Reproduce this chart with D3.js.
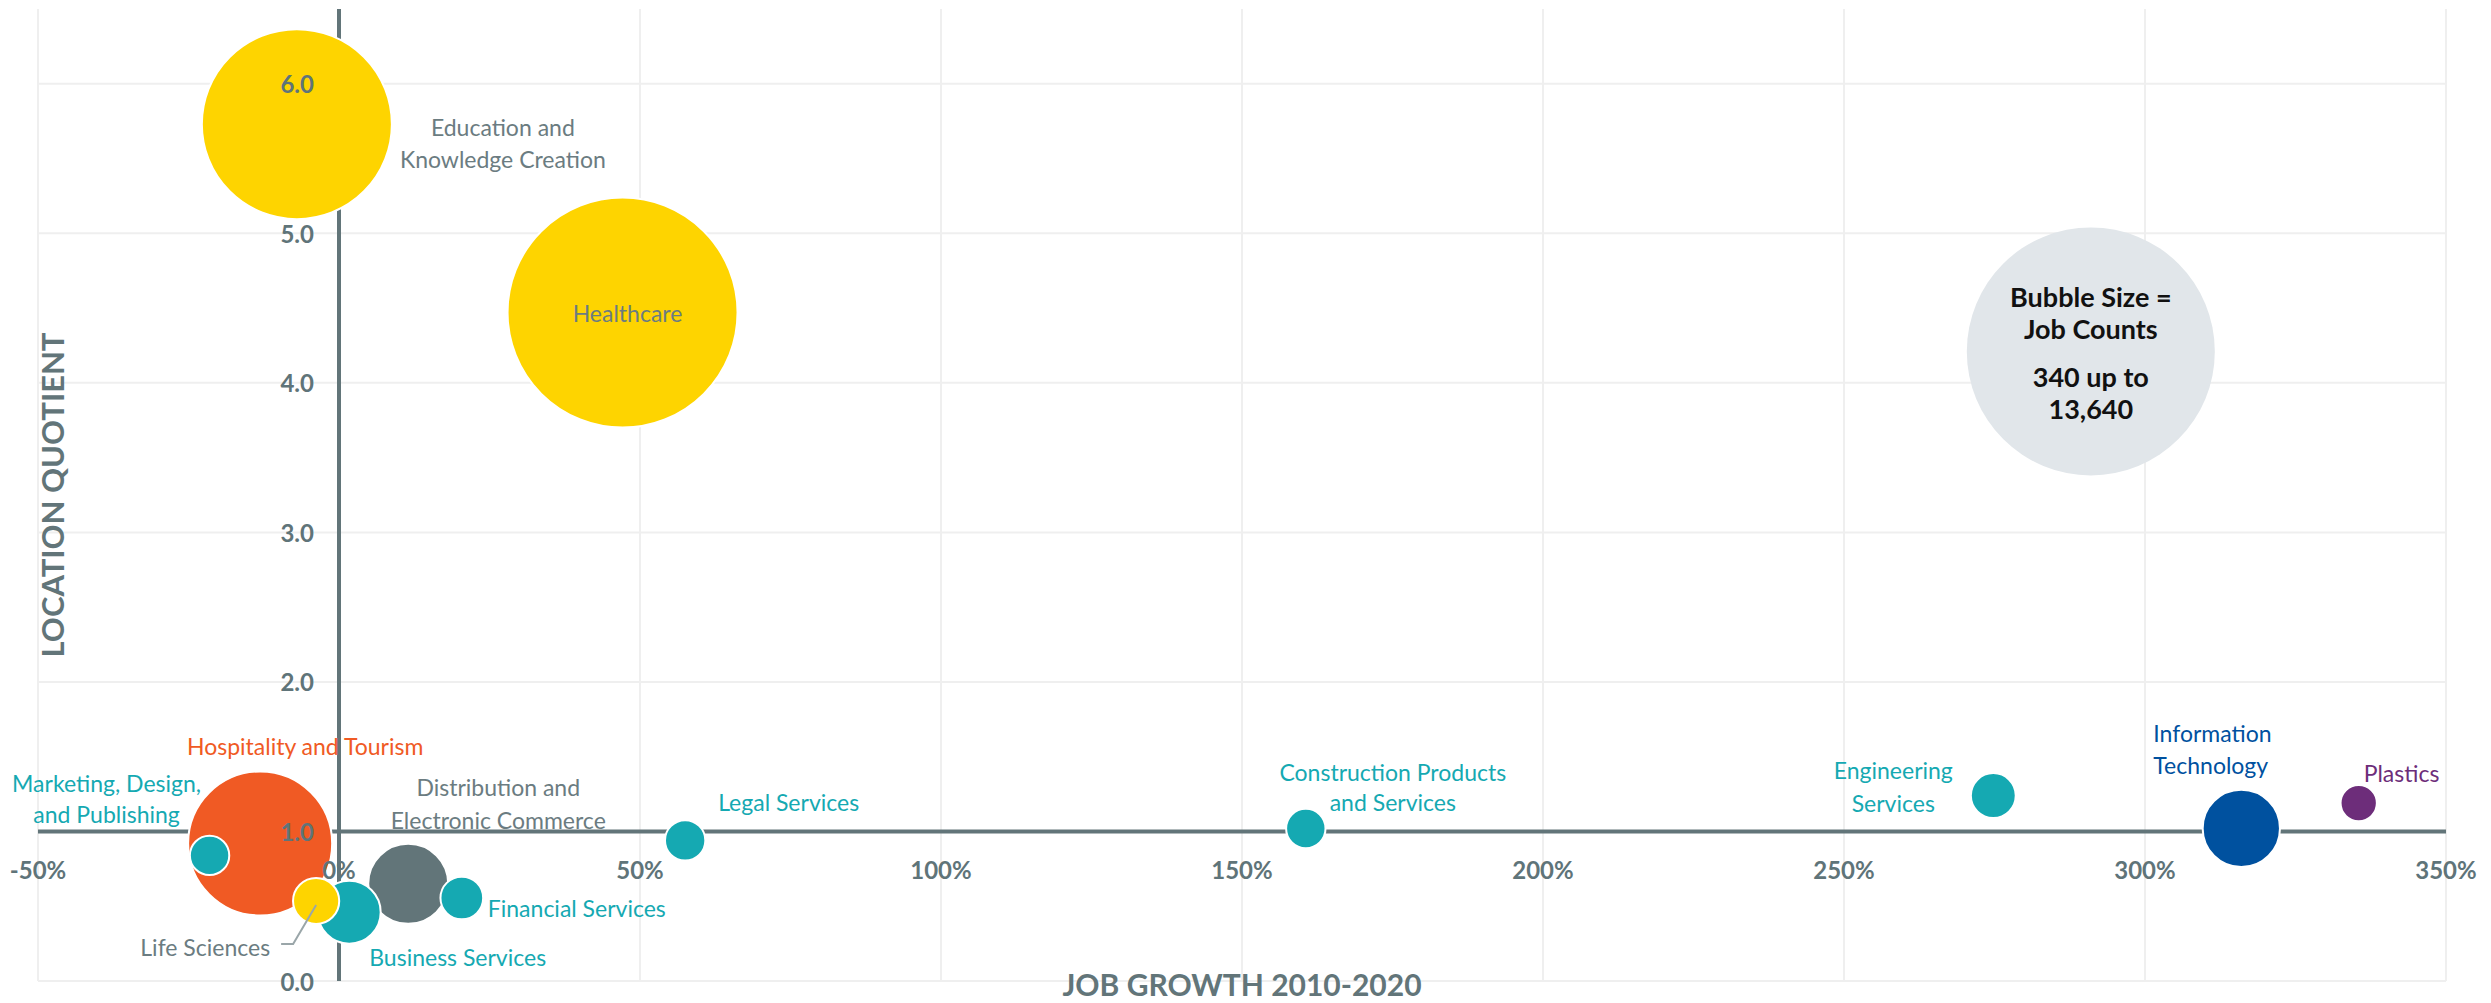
<!DOCTYPE html>
<html>
<head>
<meta charset="utf-8">
<script src="https://cdn.jsdelivr.net/npm/d3@7"></script>
<style>
  body { margin: 0; background: #fff; }
  svg { display: block; font-family: Lato, "Open Sans", sans-serif; }
</style>
</head>
<body>
<div id="chart"></div>
<script>
// industry clusters
const categories = [
  "Education and Knowledge Creation", "Healthcare", "Hospitality and Tourism",
  "Marketing, Design, and Publishing", "Life Sciences", "Business Services",
  "Distribution and Electronic Commerce", "Financial Services", "Legal Services",
  "Construction Products and Services", "Engineering Services",
  "Information Technology", "Plastics"
];
const jobGrowth = [-7.0, 47.1, -13.1, -21.5, -3.8, 1.7, 11.5, 20.4, 57.5, 160.6, 274.8, 316.0, 335.5];
const locationQuotient = [5.73, 4.47, 0.92, 0.84, 0.535, 0.46, 0.65, 0.555, 0.94, 1.02, 1.24, 1.02, 1.19];
const jobCounts = [9310, 13640, 5350, 400, 550, 1020, 1650, 470, 420, 400, 520, 1540, 340];
const colorGroup = ["yellow", "yellow", "orange", "teal", "yellow", "teal", "slate", "teal", "teal", "teal", "teal", "blue", "purple"];
const labelLines = [
  ["Education and", "Knowledge Creation"], ["Healthcare"], ["Hospitality and Tourism"],
  ["Marketing, Design,", "and Publishing"], ["Life Sciences"], ["Business Services"],
  ["Distribution and", "Electronic Commerce"], ["Financial Services"], ["Legal Services"],
  ["Construction Products", "and Services"], ["Engineering", "Services"],
  ["Information", "Technology"], ["Plastics"]
];

const xTicks = [-50, 0, 50, 100, 150, 200, 250, 300, 350];
const yTicks = [0, 1, 2, 3, 4, 5, 6];
const sizeRange = ["340 up to", "13,640"];

// label placement relative to the bubble centre (layout only)
const labelLayout = {
  "Education and Knowledge Creation": { dx: 206, dy: 3, lh: 32, anchor: "middle" },
  "Healthcare": { dx: 5, dy: 0, lh: 32, anchor: "middle" },
  "Hospitality and Tourism": { dx: 45, dy: -97, lh: 32, anchor: "middle" },
  "Marketing, Design, and Publishing": { dx: -103, dy: -72, lh: 31, anchor: "middle" },
  "Life Sciences": { dx: -46, dy: 46, lh: 32, anchor: "end", leader: true },
  "Business Services": { dx: 20, dy: 45, lh: 32, anchor: "start" },
  "Distribution and Electronic Commerce": { dx: 90, dy: -97, lh: 33, anchor: "middle" },
  "Financial Services": { dx: 26, dy: 10, lh: 32, anchor: "start" },
  "Legal Services": { dx: 33, dy: -38, lh: 32, anchor: "start" },
  "Construction Products and Services": { dx: 87, dy: -56, lh: 30, anchor: "middle" },
  "Engineering Services": { dx: -100, dy: -26, lh: 33, anchor: "middle" },
  "Information Technology": { dx: -88, dy: -95, lh: 32, anchor: "start" },
  "Plastics": { dx: 5, dy: -30, lh: 32, anchor: "start" }
};

const bubbleColor = d3.scaleOrdinal()
  .domain(["yellow", "orange", "teal", "slate", "blue", "purple"])
  .range(["#fed400", "#f05a24", "#15a9b2", "#627579", "#00519f", "#6d2d7a"]);
const textColor = d3.scaleOrdinal()
  .domain(["yellow", "orange", "teal", "slate", "blue", "purple"])
  .range(["#6b7c81", "#f05a24", "#15a9b2", "#6b7c81", "#00519f", "#6d2d7a"]);

const W = 2491, H = 1003;
const axisColor = "#627579";

const data = categories.map((name, i) => ({
  name, growth: jobGrowth[i], lq: locationQuotient[i], jobs: jobCounts[i],
  group: colorGroup[i], lines: labelLines[i]
}));

const svg = d3.select("#chart").append("svg")
  .attr("width", W).attr("height", H);

const x = d3.scaleLinear().domain([-50, 350]).range([38, 2446]);
const y = d3.scaleLinear().domain([0, 6.5]).range([981, 9]);
const r = d3.scaleSqrt().domain([0, 13640]).range([0, 115]);

// grid
svg.append("g").selectAll("line").data(xTicks).join("line")
  .attr("x1", d => x(d)).attr("x2", d => x(d))
  .attr("y1", y(6.5)).attr("y2", y(0))
  .attr("stroke", "#efefef").attr("stroke-width", 2);
svg.append("g").selectAll("line").data(yTicks).join("line")
  .attr("x1", x(-50)).attr("x2", x(350))
  .attr("y1", d => y(d)).attr("y2", d => y(d))
  .attr("stroke", "#efefef").attr("stroke-width", 2);

// cross axes at 0% and LQ 1.0
svg.append("line")
  .attr("x1", x(0)).attr("x2", x(0)).attr("y1", y(6.5)).attr("y2", y(0))
  .attr("stroke", axisColor).attr("stroke-width", 4);
svg.append("line")
  .attr("x1", x(-50)).attr("x2", x(350)).attr("y1", y(1)).attr("y2", y(1))
  .attr("stroke", axisColor).attr("stroke-width", 4);

// size legend bubble
const legendAt = { growth: 291, lq: 4.21 };
const legend = svg.append("g")
  .attr("transform", `translate(${x(legendAt.growth)},${y(legendAt.lq)})`);
legend.append("circle").attr("r", 124).attr("fill", "#e1e6ea");
legend.selectAll("text")
  .data(["Bubble Size =", "Job Counts", ...sizeRange])
  .join("text")
  .attr("text-anchor", "middle")
  .attr("dominant-baseline", "central")
  .attr("y", (d, i) => [-55, -23, 25, 57][i])
  .attr("fill", "#111")
  .style("font-size", "27px")
  .style("font-weight", 700)
  .text(d => d);

// bubbles, big ones first
const sorted = data.slice().sort((a, b) => b.jobs - a.jobs);
svg.append("g").selectAll("circle").data(sorted).join("circle")
  .attr("cx", d => x(d.growth))
  .attr("cy", d => y(d.lq))
  .attr("r", d => r(d.jobs))
  .attr("fill", d => bubbleColor(d.group))
  .attr("stroke", "#fff").attr("stroke-width", 2);

// tick labels
svg.append("g").selectAll("text").data(xTicks).join("text")
  .attr("x", d => x(d)).attr("y", y(1) + 38)
  .attr("text-anchor", "middle").attr("dominant-baseline", "central")
  .attr("fill", "#5f7479")
  .style("font-size", "24px").style("font-weight", 700)
  .text(d => d + "%");
svg.append("g").selectAll("text").data(yTicks).join("text")
  .attr("x", x(0) - 25).attr("y", d => y(d))
  .attr("text-anchor", "end").attr("dominant-baseline", "central")
  .attr("fill", "#5f7479")
  .style("font-size", "24px").style("font-weight", 700)
  .text(d => d.toFixed(1));

// bubble labels
const labels = svg.append("g");
data.forEach(d => {
  const L = labelLayout[d.name];
  const cx = x(d.growth), cy = y(d.lq);
  if (L.leader) {
    labels.append("polyline")
      .attr("points", [[cx - 35, cy + 43], [cx - 23, cy + 43], [cx, cy + 4]].join(" "))
      .attr("fill", "none").attr("stroke", "#9aa6a9").attr("stroke-width", 2);
  }
  labels.append("g").selectAll("text").data(d.lines).join("text")
    .attr("x", cx + L.dx)
    .attr("y", (t, i) => cy + L.dy + i * L.lh)
    .attr("text-anchor", L.anchor)
    .attr("dominant-baseline", "central")
    .attr("fill", textColor(d.group))
    .style("font-size", "23px")
    .text(t => t);
});

// axis titles
svg.append("text")
  .attr("transform", `translate(52,${(y(0) + y(6.5)) / 2}) rotate(-90)`)
  .attr("text-anchor", "middle").attr("dominant-baseline", "central")
  .attr("fill", axisColor)
  .style("font-size", "31px").style("font-weight", 700)
  .text("LOCATION QUOTIENT");
svg.append("text")
  .attr("x", (x(-50) + x(350)) / 2).attr("y", 984)
  .attr("text-anchor", "middle").attr("dominant-baseline", "central")
  .attr("fill", axisColor)
  .style("font-size", "30px").style("font-weight", 700)
  .text("JOB GROWTH 2010-2020");
</script>
</body>
</html>
